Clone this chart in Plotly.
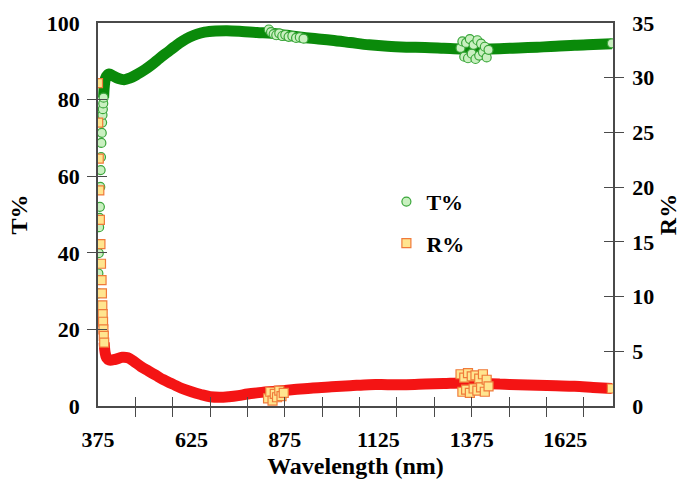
import plotly.graph_objects as go

# ---------------- data ----------------
# T% : sparse rising edge (circles)
t_rise_wl = [375.5, 376, 377, 378, 379, 380, 381, 382, 383, 384, 385, 386, 387, 388, 389, 390]
t_rise_val = [29.4, 34.6, 39.9, 46.7, 49.1, 52.0, 57.2, 61.6, 65.0, 68.7, 71.3, 74.0, 76.0, 77.5, 79.0, 80.5]

# T% : dense band
t_band_wl = [390, 393, 397, 405, 415, 430, 445, 460, 480, 500, 520, 540, 560, 580, 600, 620, 640, 660,
             690, 720, 760, 800, 840, 880, 920, 960, 1000, 1050, 1100, 1150, 1200, 1250, 1300, 1350,
             1400, 1450, 1500, 1550, 1600, 1650, 1700, 1750]
t_band_val = [80.5, 84.5, 86.0, 86.7, 86.2, 85.5, 85.2, 85.6, 86.6, 87.8, 89.2, 90.8, 92.3, 93.8, 95.2,
              96.3, 97.1, 97.6, 97.9, 98.0, 97.8, 97.5, 97.3, 96.8, 96.3, 95.9, 95.5, 94.9, 94.3, 93.9,
              93.7, 93.6, 93.4, 93.2, 93.2, 93.3, 93.5, 93.7, 93.9, 94.2, 94.4, 94.6]

# T% : scattered points (detector change regions) + last point
t_scat_wl = [832, 838, 845, 852, 860, 868, 876, 885, 895, 905, 915, 925,
             1345, 1350, 1355, 1360, 1365, 1370, 1375, 1380, 1385, 1390, 1395, 1400, 1405, 1410, 1415, 1420,
             1750]
t_scat_val = [98.3, 97.6, 97.1, 96.8, 97.3, 96.6, 96.9, 96.4, 96.6, 96.1, 96.3, 95.9,
              93.5, 95.2, 91.2, 94.8, 90.8, 95.8, 92.0, 94.3, 90.6, 95.5, 91.5, 94.6, 92.4, 93.8, 91.0, 93.0,
              94.7]

# R% : sparse falling edge (squares)
r_fall_wl = [375, 375.5, 377, 378.5, 380, 381.5, 383, 384.5, 385.5, 386.5, 387.5, 388.5, 389.5, 390.5, 391.5]
r_fall_val = [29.5, 25.9, 22.6, 19.7, 17.0, 14.8, 13.0, 11.5, 10.3, 9.2, 8.4, 7.7, 7.0, 6.4, 5.8]

# R% : dense band
r_band_wl = [391.5, 394, 398, 405, 420, 440, 455, 470, 490, 510, 530, 550, 575, 600, 625, 650, 675, 700,
             725, 750, 775, 800, 850, 900, 950, 1000, 1050, 1100, 1150, 1200, 1250, 1300, 1350, 1400,
             1450, 1500, 1550, 1600, 1650, 1700, 1750]
r_band_val = [5.8, 4.9, 4.4, 4.2, 4.25, 4.45, 4.4, 4.1, 3.6, 3.2, 2.8, 2.4, 2.0, 1.6, 1.3, 1.05, 0.85, 0.8,
              0.85, 0.95, 1.1, 1.2, 1.35, 1.5, 1.65, 1.75, 1.85, 1.95, 1.95, 1.95, 2.0, 2.05, 2.1, 2.05,
              2.0, 1.95, 1.9, 1.85, 1.8, 1.7, 1.6]

# R% : scattered points + last point
r_scat_wl = [830, 836, 842, 848, 854, 860, 866, 872,
             1345, 1350, 1355, 1360, 1365, 1370, 1375, 1380, 1385, 1390, 1395, 1400, 1405, 1410, 1415, 1420,
             1750]
r_scat_val = [0.7, 1.3, 0.5, 1.1, 0.8, 1.4, 0.9, 1.2,
              2.9, 1.3, 2.6, 1.5, 3.0, 1.2, 2.7, 1.6, 2.8, 1.4, 2.5, 1.7, 2.9, 1.3, 2.4, 1.8,
              1.6]

x_label_vals = [375, 625, 875, 1125, 1375, 1625]

# ---------------- style ----------------
FONT = "Liberation Serif"
AX = "#4a4a4a"
T_DARK = "#0a8a0a"
T_EDGE = "#3aa63a"
T_FILL = "#c9f0c0"
R_DARK = "#f41414"
R_EDGE = "#f07a3a"
R_FILL = "#ffe58f"
BAND_W = 11
TL = 9      # tick length each side of the axis line
TW = 1.4
EPS = 1e-6  # tiny offset so the outer (minor) ticks are not merged with the inner (major) ones

fig = go.Figure()

fig.add_trace(go.Scatter(x=t_band_wl, y=t_band_val, mode="lines", xaxis="x", yaxis="y",
                         line=dict(color=T_DARK, width=BAND_W, shape="spline"),
                         showlegend=False, hoverinfo="skip"))
fig.add_trace(go.Scatter(x=r_band_wl, y=r_band_val, mode="lines", xaxis="x", yaxis="y2",
                         line=dict(color=R_DARK, width=BAND_W, shape="spline"), showlegend=False, hoverinfo="skip"))
fig.add_trace(go.Scatter(x=t_rise_wl + t_scat_wl, y=t_rise_val + t_scat_val, mode="markers", name="T%",
                         xaxis="x3", yaxis="y",
                         marker=dict(symbol="circle", size=9, color=T_FILL, line=dict(color=T_EDGE, width=1.2)),
                         legendgroup="t"))
fig.add_trace(go.Scatter(x=r_fall_wl + r_scat_wl, y=r_fall_val + r_scat_val, mode="markers", name="R%",
                         xaxis="x3", yaxis="y2",
                         marker=dict(symbol="square", size=9, color=R_FILL, line=dict(color=R_EDGE, width=1.2)),
                         legendgroup="r"))

tickfont = dict(family=FONT, size=22, color="black", weight="bold")
titlefont = dict(family=FONT, size=24, color="black", weight="bold")
XR = [375, 1753]

fig.update_layout(
    width=685, height=483,
    margin=dict(l=98, r=72, t=23, b=77, autoexpand=False),
    paper_bgcolor="white", plot_bgcolor="white",
    showlegend=True,
    legend=dict(x=0.56, y=0.588, xanchor="left", yanchor="top", font=dict(family=FONT, size=22, color="black", weight="bold"),
                bgcolor="rgba(0,0,0,0)", traceorder="grouped", tracegroupgap=10, itemwidth=30),
    # primary x: tick marks only (inner = major, outer = minor)
    xaxis=dict(range=XR, tickmode="linear", tick0=375, dtick=100, ticks="inside", ticklen=TL, tickcolor=AX,
               tickwidth=TW, showticklabels=False, showgrid=False, zeroline=False,
               showline=True, linecolor=AX, linewidth=1.6, mirror=True,
               minor=dict(ticks="outside", tick0=375 + EPS, dtick=100, ticklen=TL, tickcolor=AX, tickwidth=TW,
                          showgrid=False)),
    # overlay x: the labels and the title
    xaxis3=dict(range=XR, overlaying="x", anchor="y", tickmode="array", tickvals=x_label_vals, ticks="",
                showticklabels=True, tickfont=tickfont, ticklabelstandoff=18, showgrid=False, zeroline=False,
                showline=False,
                title=dict(text="Wavelength (nm)", font=titlefont, standoff=6)),
    yaxis=dict(range=[0, 100], tickmode="linear", tick0=0, dtick=20, ticks="inside", ticklen=TL, tickcolor=AX,
               tickwidth=TW, showgrid=False, zeroline=False, showline=True, linecolor=AX, linewidth=1.6,
               tickfont=tickfont, ticklabelstandoff=12,
               minor=dict(ticks="outside", tick0=EPS, dtick=20, ticklen=TL, tickcolor=AX, tickwidth=TW, showgrid=False),
               title=dict(text="T%", font=titlefont, standoff=12)),
    yaxis2=dict(range=[0, 35], overlaying="y", side="right", anchor="x", tickmode="linear", tick0=0, dtick=5,
                ticks="inside", ticklen=TL, tickcolor=AX, tickwidth=TW, showgrid=False, zeroline=False,
                showline=True, linecolor=AX, linewidth=1.6, tickfont=tickfont, ticklabelstandoff=13,
                minor=dict(ticks="outside", tick0=EPS, dtick=5, ticklen=TL, tickcolor=AX, tickwidth=TW, showgrid=False),
                title=dict(text="R%", font=titlefont, standoff=6)),
)

fig.write_html("out.html")
